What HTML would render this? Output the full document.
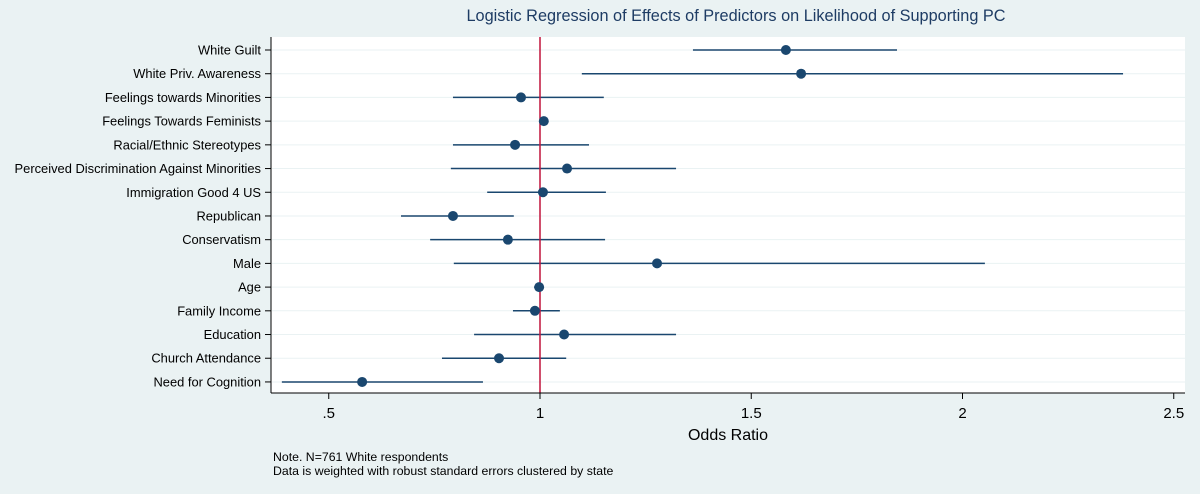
<!DOCTYPE html>
<html><head><meta charset="utf-8"><style>
body{margin:0;background:#eaf2f3;font-family:"Liberation Sans",Arial,sans-serif}
svg{display:block}
</style></head><body>
<svg width="1200" height="494" viewBox="0 0 1200 494">
<rect x="0" y="0" width="1200" height="494" fill="#eaf2f3"/>
<rect x="271" y="37" width="914" height="356" fill="#fff"/>
<text x="736" y="21" text-anchor="middle" font-size="16.3" fill="#1e3c64">Logistic Regression of Effects of Predictors on Likelihood of Supporting PC</text>
<g id="grid"></g><g id="marks"></g><g id="yaxis"></g><g id="xaxis"></g>
<line x1="271" y1="37" x2="271" y2="393" stroke="#000" stroke-width="1"/>
<line x1="271" y1="393" x2="1185" y2="393" stroke="#000" stroke-width="1"/>
<text x="728" y="440" text-anchor="middle" font-size="16" fill="#000">Odds Ratio</text>
<text x="273" y="461" font-size="12.3" fill="#000">Note. N=761 White respondents</text>
<text x="273" y="475" font-size="12.3" fill="#000">Data is weighted with robust standard errors clustered by state</text>
</svg>
<script>
const categories=["White Guilt","White Priv. Awareness","Feelings towards Minorities","Feelings Towards Feminists","Racial/Ethnic Stereotypes","Perceived Discrimination Against Minorities","Immigration Good 4 US","Republican","Conservatism","Male","Age","Family Income","Education","Church Attendance","Need for Cognition"];
const estimates=[1.582,1.618,0.955,1.009,0.941,1.064,1.007,0.794,0.924,1.277,0.998,0.988,1.057,0.903,0.579];
const lower=[1.362,1.099,0.794,1.0,0.794,0.789,0.875,0.671,0.740,0.796,0.986,0.936,0.844,0.768,0.389];
const upper=[1.845,2.38,1.151,1.02,1.116,1.322,1.156,0.938,1.154,2.053,1.009,1.047,1.322,1.062,0.865];
const xTicks=[0.5,1,1.5,2,2.5];
const xTickLabels=[".5","1","1.5","2","2.5"];
const refValue=1;
const NS="http://www.w3.org/2000/svg";
const xs=v=>540+(v-1)*422.5;
const ys=i=>50+i*23.71;
function mk(t,a,p){const e=document.createElementNS(NS,t);for(const k in a)e.setAttribute(k,a[k]);p.appendChild(e);return e;}
const grid=document.getElementById('grid'),marks=document.getElementById('marks'),ya=document.getElementById('yaxis'),xa=document.getElementById('xaxis');
categories.forEach((c,i)=>{
 const y=ys(i);
 const g=mk('line',{x1:272,x2:1185,y1:y,y2:y,stroke:'#eaf2f3','stroke-width':1},grid);
 
 
 const tk=mk('line',{x1:265,x2:271,y1:y,y2:y,stroke:'#000'},ya);
 
 
 const t=mk('text',{x:261,y:y+4.5,'text-anchor':'end','font-size':12.9,fill:'#000'},ya);
 t.textContent=c;
 
 
 const l=mk('line',{x1:xs(lower[i]),x2:xs(upper[i]),y1:y,y2:y,stroke:'#1a476f','stroke-width':1.5},marks);
 
 
});
const rl=mk('line',{x1:xs(refValue),x2:xs(refValue),y1:37,y2:393,stroke:'#c0143c','stroke-width':1.5},marks);


estimates.forEach((v,i)=>{
 const p=mk('circle',{cx:xs(v),cy:ys(i),r:5,fill:'#1a476f'},marks);
 
 
});
xTicks.forEach((v,i)=>{
 const tk=mk('line',{x1:xs(v),x2:xs(v),y1:393,y2:399,stroke:'#000'},xa);
 
 
 const t=mk('text',{x:xs(v),y:418,'text-anchor':'middle','font-size':15,fill:'#000'},xa);
 t.textContent=xTickLabels[i];
 
 
});
</script>
</body></html>
